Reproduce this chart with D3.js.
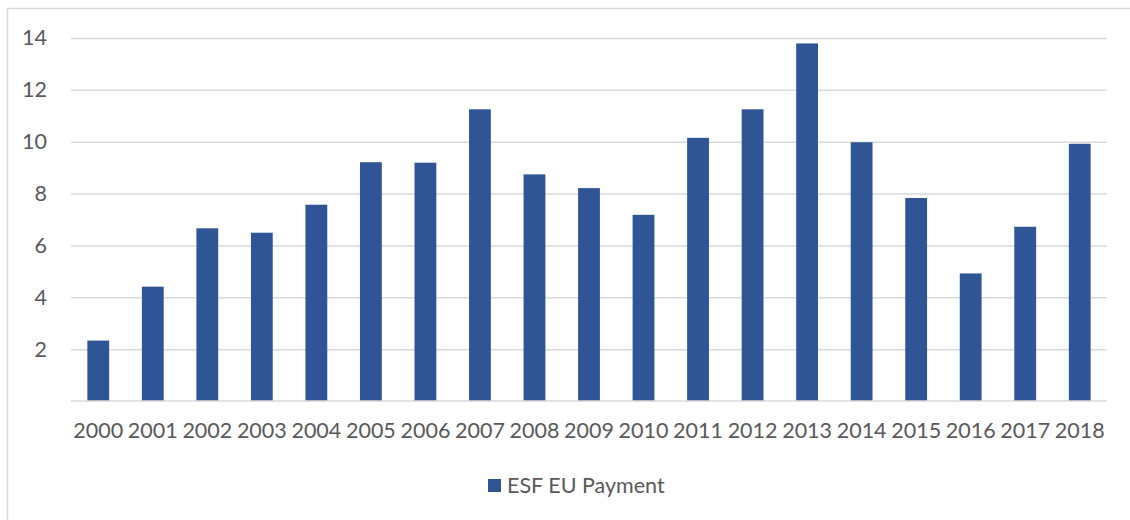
<!DOCTYPE html>
<html>
<head>
<meta charset="utf-8">
<script src="https://cdn.jsdelivr.net/npm/d3@7"></script>
<style>
  html, body { margin: 0; padding: 0; background: #fff; }
  svg { display: block; }
  text { font-family: Lato, "Open Sans", sans-serif; fill: #595959; }
</style>
</head>
<body>
<svg id="chart" width="1130" height="520"></svg>
<script>
// ESF EU payments per year
const years = ["2000","2001","2002","2003","2004","2005","2006","2007","2008","2009",
               "2010","2011","2012","2013","2014","2015","2016","2017","2018"];
const payments = [2.33, 4.41, 6.66, 6.49, 7.57, 9.21, 9.19, 11.25, 8.74, 8.21,
                  7.18, 10.15, 11.25, 13.79, 9.98, 7.83, 4.92, 6.72, 9.92];
const yTicks = [2, 4, 6, 8, 10, 12, 14];
const seriesName = "ESF EU Payment";

const svg = d3.select("#chart");
const W = 1130, H = 520;
const margin = { left: 71, right: 23, top: 38, bottom: 119 };
const fontSize = 21.5;

// outer chart frame
svg.append("rect")
  .attr("x", 7.5).attr("y", 8.5)
  .attr("width", W + 20).attr("height", H + 20)
  .attr("fill", "none").attr("stroke", "#d9d9d9").attr("stroke-width", 1.5);

const x = d3.scaleBand()
  .domain(years)
  .range([margin.left, W - margin.right])
  .paddingInner(0.6).paddingOuter(0.3);

const y = d3.scaleLinear()
  .domain([0, 14])
  .range([H - margin.bottom, margin.top]);

// horizontal gridlines with value labels
const yAxis = d3.axisLeft(y)
  .tickValues(yTicks)
  .tickSize(-(W - margin.left - margin.right))
  .tickPadding(24)
  .tickFormat(d3.format("d"));

const gy = svg.append("g")
  .attr("transform", `translate(${margin.left},0)`)
  .call(yAxis);
gy.select(".domain").remove();
gy.selectAll(".tick line").attr("stroke", "#d9d9d9").attr("stroke-width", 1.5);
gy.selectAll(".tick text")
  .attr("font-size", fontSize).attr("fill", "#595959")
  .style("font-family", "Lato, 'Open Sans', sans-serif");

// bars
svg.append("g").selectAll("rect")
  .data(years.map((yr, i) => ({ yr, v: payments[i] })))
  .join("rect")
  .attr("x", d => x(d.yr))
  .attr("width", x.bandwidth())
  .attr("y", d => y(d.v))
  .attr("height", d => y(0) - y(d.v))
  .attr("fill", "#2f5597");

// category axis along the baseline
const xAxis = d3.axisBottom(x).tickSize(0).tickPadding(22);
const gx = svg.append("g")
  .attr("transform", `translate(0,${y(0)})`)
  .call(xAxis);
gx.select(".domain")
  .attr("stroke", "#d9d9d9").attr("stroke-width", 1.5)
  .attr("d", `M${margin.left},0H${W - margin.right}`);
gx.selectAll(".tick text")
  .attr("font-size", fontSize).attr("fill", "#595959")
  .style("font-family", "Lato, 'Open Sans', sans-serif");

// legend
const legend = svg.append("g").attr("transform", "translate(488,479)");
legend.append("rect")
  .attr("width", 13).attr("height", 13)
  .attr("fill", "#2f5597");
legend.append("text")
  .attr("x", 19).attr("y", 14)
  .attr("font-size", fontSize)
  .text(seriesName);
</script>
</body>
</html>
